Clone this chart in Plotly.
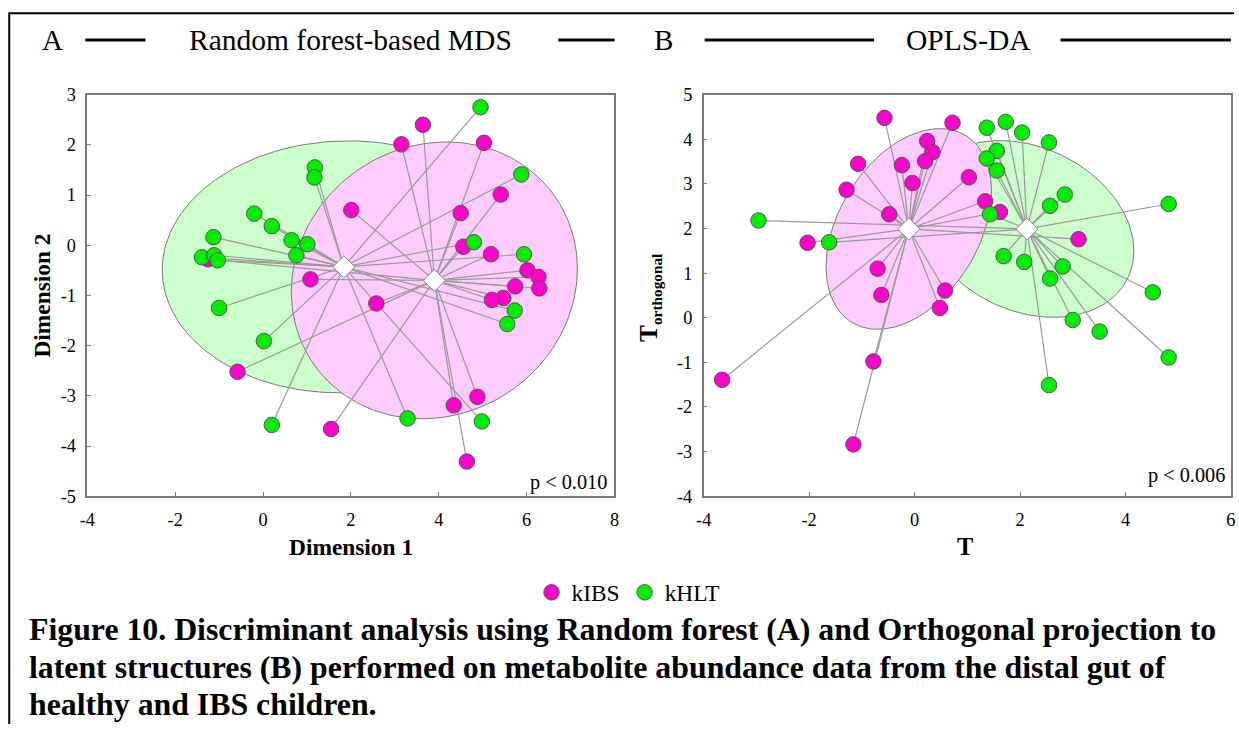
import numpy as np
import plotly.graph_objects as go

# ---------------- data ----------------
# Panel A: Random forest-based MDS
a_ibs_x = [3.64, 3.15, 5.03, 5.41, 2.01, 4.50, 4.56, 5.19, 6.02, 6.27, 6.29, 5.74, 5.47, 5.21, 1.08, 2.58, -1.25, -0.58, 1.55, 4.34, 4.88, 4.64]
a_ibs_y = [2.40, 2.01, 2.04, 1.01, 0.70, 0.64, -0.03, -0.18, -0.50, -0.63, -0.86, -0.82, -1.05, -1.09, -0.68, -1.16, -0.28, -2.52, -3.66, -3.19, -3.02, -4.31]
a_hlt_x = [4.95, 1.18, 1.17, -0.20, 0.20, 0.65, 1.01, 0.76, -1.13, -1.39, -1.11, -1.03, -1.00, 0.02, 0.20, 3.29, 4.98, 4.80, 5.94, 5.88, 5.73, 5.56]
a_hlt_y = [2.75, 1.55, 1.35, 0.63, 0.38, 0.10, 0.02, -0.20, 0.16, -0.24, -0.20, -0.30, -1.25, -1.91, -3.58, -3.45, -3.51, 0.06, -0.18, 1.41, -1.30, -1.57]
a_centroid_ibs = (3.90, -0.70)
a_centroid_hlt = (1.84, -0.43)
a_ellipse_ibs = (10.6, 7.6, 0.75)   # (var x, var y, cov xy)
a_ellipse_hlt = (17.1, 6.3, 0.25)

# Panel B: OPLS-DA
b_ibs_x = [-0.57, 0.72, 0.24, 0.34, 0.20, -1.07, -0.24, 1.03, -0.04, -1.29, 1.34, 1.62, -0.48, -2.03, 3.11, -0.70, -0.63, 0.58, 0.48, -0.78, -3.65, -1.16]
b_ibs_y = [4.48, 4.37, 3.96, 3.71, 3.51, 3.45, 3.42, 3.15, 3.02, 2.87, 2.61, 2.37, 2.32, 1.68, 1.76, 1.10, 0.51, 0.61, 0.22, -0.98, -1.39, -2.84]
b_hlt_x = [1.37, 1.73, 2.04, 2.55, 1.56, 1.37, 1.56, 2.85, 2.57, 1.43, 4.82, -2.96, -1.62, 1.69, 2.08, 2.81, 2.57, 4.52, 3.00, 3.51, 4.82, 2.55]
b_hlt_y = [4.26, 4.39, 4.15, 3.93, 3.74, 3.57, 3.30, 2.76, 2.51, 2.32, 2.55, 2.18, 1.69, 1.38, 1.25, 1.15, 0.88, 0.57, -0.05, -0.31, -0.89, -1.51]
b_centroid_ibs = (-0.11, 1.99)
b_centroid_hlt = (2.13, 1.99)
b_ellipse_ibs = (2.46, 5.06, 1.33)
b_ellipse_hlt = (4.12, 3.92, -1.0)

x_ticks_a = [-4, -2, 0, 2, 4, 6, 8]
y_ticks_a = [3, 2, 1, 0, -1, -2, -3, -4, -5]
x_ticks_b = [-4, -2, 0, 2, 4, 6]
y_ticks_b = [5, 4, 3, 2, 1, 0, -1, -2, -3, -4]

groups = ["kIBS", "kHLT"]
p_values = ["p < 0.010", "p < 0.006"]

# ---------------- styling ----------------
W, H = 1239, 734
PAGE_MARGIN = 8          # default page margin around the plot div
SX = (W + 2 * PAGE_MARGIN) / W
SY = (H + 2 * PAGE_MARGIN) / H
FS = (SX + SY) / 2       # font compensation
SERIF = "Liberation Serif, Times New Roman, serif"
C_IBS = "#ff00cc"
C_HLT = "#00ee00"
F_IBS = "#ffccff"
F_HLT = "#ccffcc"
GRAY = "#7a7a7a"


def px(x):
    return max(0.0, (x * SX - PAGE_MARGIN) / W)


def py(y):
    return 1 - (y * SY - PAGE_MARGIN) / H


def fs(s):
    return round(s * FS, 1)


def ellipse_pts(center, cov, n=200):
    sxx, syy, sxy = cov
    S = np.array([[sxx, sxy], [sxy, syy]])
    L = np.linalg.cholesky(S)
    t = np.linspace(0, 2 * np.pi, n)
    circ = np.vstack([np.cos(t), np.sin(t)])
    e = L @ circ
    return e[0] + center[0], e[1] + center[1]


def spokes(xs, ys, c):
    lx, ly = [], []
    for x, y in zip(xs, ys):
        lx += [c[0], x, None]
        ly += [c[1], y, None]
    return lx, ly


fig = go.Figure()

panels = [
    dict(xa="x", ya="y", ibs=(a_ibs_x, a_ibs_y), hlt=(a_hlt_x, a_hlt_y),
         ci=a_centroid_ibs, ch=a_centroid_hlt, ei=a_ellipse_ibs, eh=a_ellipse_hlt, legend=True),
    dict(xa="x2", ya="y2", ibs=(b_ibs_x, b_ibs_y), hlt=(b_hlt_x, b_hlt_y),
         ci=b_centroid_ibs, ch=b_centroid_hlt, ei=b_ellipse_ibs, eh=b_ellipse_hlt, legend=False),
]

for p in panels:
    ex, ey = ellipse_pts(p["ch"], p["eh"])
    fig.add_trace(go.Scatter(x=ex, y=ey, xaxis=p["xa"], yaxis=p["ya"], mode="lines",
                             fill="toself", fillcolor=F_HLT, line=dict(color=GRAY, width=1),
                             showlegend=False, hoverinfo="skip"))
    ex, ey = ellipse_pts(p["ci"], p["ei"])
    fig.add_trace(go.Scatter(x=ex, y=ey, xaxis=p["xa"], yaxis=p["ya"], mode="lines",
                             fill="toself", fillcolor=F_IBS, line=dict(color=GRAY, width=1),
                             showlegend=False, hoverinfo="skip"))
    lx1, ly1 = spokes(*p["ibs"], p["ci"])
    lx2, ly2 = spokes(*p["hlt"], p["ch"])
    fig.add_trace(go.Scatter(x=lx1 + lx2, y=ly1 + ly2, xaxis=p["xa"], yaxis=p["ya"], mode="lines",
                             line=dict(color="#9a9a9a", width=1.2), showlegend=False, hoverinfo="skip"))
    fig.add_trace(go.Scatter(x=p["ibs"][0], y=p["ibs"][1], xaxis=p["xa"], yaxis=p["ya"], mode="markers",
                             marker=dict(size=15.5, color=C_IBS, line=dict(color="#555", width=1)),
                             name=groups[0], showlegend=p["legend"]))
    fig.add_trace(go.Scatter(x=p["hlt"][0], y=p["hlt"][1], xaxis=p["xa"], yaxis=p["ya"], mode="markers",
                             marker=dict(size=15.5, color=C_HLT, line=dict(color="#555", width=1)),
                             name=groups[1], showlegend=p["legend"]))
    fig.add_trace(go.Scatter(x=[p["ci"][0], p["ch"][0]], y=[p["ci"][1], p["ch"][1]],
                             xaxis=p["xa"], yaxis=p["ya"], mode="markers",
                             marker=dict(symbol="diamond", size=17, color="white",
                                         line=dict(color="#888", width=1)),
                             showlegend=False, hoverinfo="skip"))

axis_common = dict(showgrid=False, zeroline=False, showline=True, mirror=True,
                   linecolor=GRAY, linewidth=1.5, ticks="inside", ticklen=4,
                   tickcolor=GRAY, tickfont=dict(family=SERIF, size=fs(18), color="black"),
                   ticklabelstandoff=6)

ytop, ybot = py(93), py(497)
fig.update_layout(
    width=W, height=H, margin=dict(l=0, r=0, t=0, b=0),
    paper_bgcolor="white", plot_bgcolor="white",
    xaxis=dict(domain=[px(87), px(613)], range=[-4, 8], tickvals=x_ticks_a,
               ticktext=[str(v) for v in x_ticks_a], anchor="y", **axis_common),
    yaxis=dict(domain=[ybot, ytop], range=[-5, 3], tickvals=y_ticks_a,
               ticktext=[str(v) for v in y_ticks_a], anchor="x", **axis_common),
    xaxis2=dict(domain=[px(702), px(1228)], range=[-4, 6], tickvals=x_ticks_b,
                ticktext=[str(v) for v in x_ticks_b], anchor="y2", **axis_common),
    yaxis2=dict(domain=[ybot, ytop], range=[-4, 5], tickvals=y_ticks_b,
                ticktext=[str(v) for v in y_ticks_b], anchor="x2", **axis_common),
    legend=dict(orientation="h", x=px(627), y=py(594), xanchor="center", yanchor="middle",
                font=dict(family=SERIF, size=fs(23), color="black"), itemwidth=30,
                bgcolor="rgba(0,0,0,0)", tracegroupgap=0),
    showlegend=True,
)

ann = []
def text(x, y, s, size, bold=False, xanchor="center", angle=0):
    ann.append(dict(x=px(x), y=py(y), xref="paper", yref="paper", text=("<b>%s</b>" % s) if bold else s,
                    showarrow=False, xanchor=xanchor, yanchor="middle", textangle=angle,
                    font=dict(family=SERIF, size=fs(size), color="black")))

# headers
text(52, 38, "A", 28.5)
text(350, 38, "Random forest-based MDS", 29)
text(662, 38, "B", 28.5)
text(966, 38, "OPLS-DA", 29)
# axis titles
text(350, 548, "Dimension 1", 23, bold=True)
text(42, 295, "Dimension 2", 23, bold=True, angle=-90)
text(963, 548, "T", 24, bold=True)
ann.append(dict(x=px(648), y=py(298), xref="paper", yref="paper",
                text="<b>T<sub><span style='font-size:%spx'>orthogonal</span></sub></b>" % fs(15),
                showarrow=False, xanchor="center", yanchor="middle", textangle=-90,
                font=dict(family=SERIF, size=fs(25), color="black")))
# p values
ann.append(dict(x=px(608), y=py(483), xref="paper", yref="paper", text=p_values[0], showarrow=False,
                xanchor="right", yanchor="middle", font=dict(family=SERIF, size=fs(20), color="black")))
ann.append(dict(x=px(1224), y=py(476), xref="paper", yref="paper", text=p_values[1], showarrow=False,
                xanchor="right", yanchor="middle", font=dict(family=SERIF, size=fs(20), color="black")))
# caption
cap = ["Figure 10. Discriminant analysis using Random forest (A) and Orthogonal projection to",
       "latent structures (B) performed on metabolite abundance data from the distal gut of",
       "healthy and IBS children."]
for i, line in enumerate(cap):
    text(27, 631 + 38 * i, line, 31.3, bold=True, xanchor="left")

fig.update_layout(annotations=ann)

shapes = []
for x0, x1 in [(85, 145), (557, 613), (703, 872), (1058, 1228)]:
    shapes.append(dict(type="line", xref="paper", yref="paper", x0=px(x0), x1=px(x1),
                       y0=py(38), y1=py(38), line=dict(color="black", width=3)))
shapes.append(dict(type="path", xref="paper", yref="paper",
                   path="M %f %f L %f %f L %f %f" % (px(4) + 0.001, 0.0, px(4) + 0.001, py(11), 1.0, py(11)),
                   line=dict(color="black", width=2)))
fig.update_layout(shapes=shapes)

fig.write_html("out.html")
